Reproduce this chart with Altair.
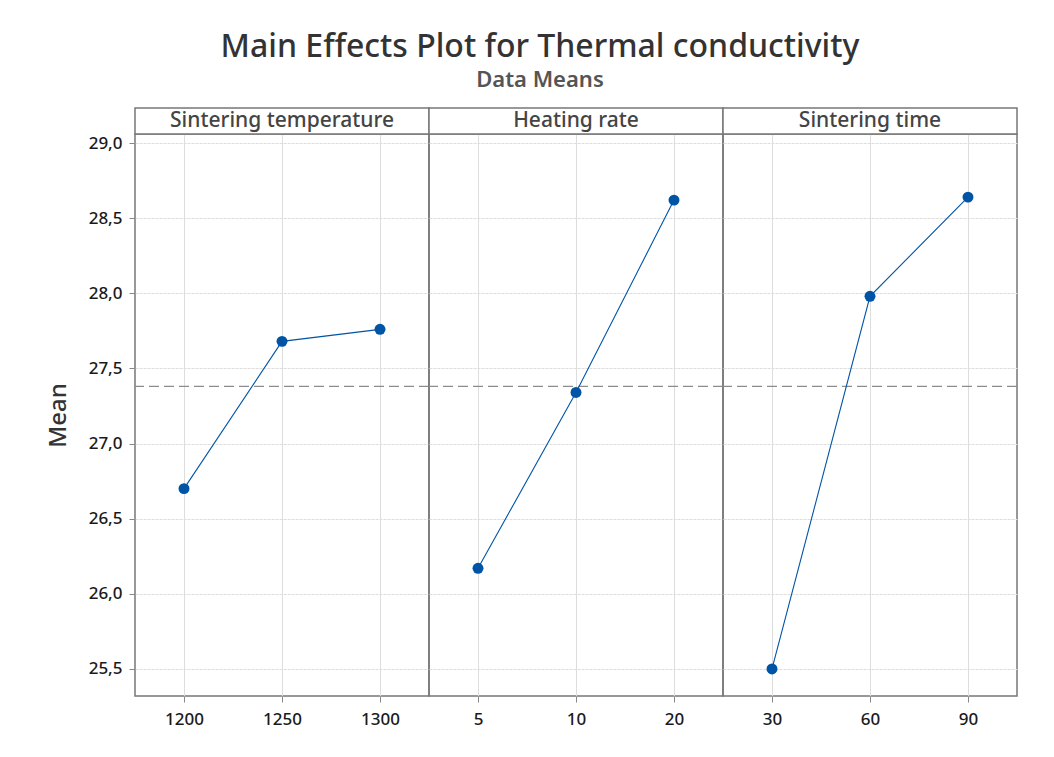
import altair as alt
import pandas as pd

factors = ["Sintering temperature", "Heating rate", "Sintering time"]
levels = [["1200", "1250", "1300"], ["5", "10", "20"], ["30", "60", "90"]]
means = [[26.70, 27.68, 27.76], [26.17, 27.34, 28.62], [25.50, 27.98, 28.64]]
grand_mean = [27.38]
y_ticks = [25.5, 26.0, 26.5, 27.0, 27.5, 28.0, 28.5, 29.0]
y_domain = [25.32, 29.06]

FONT = "Noto Sans"
W = 294
H = 562
HDR = 26
BLUE = "#0054a6"


def panel(i):
    df = pd.DataFrame({"level": levels[i], "mean": means[i]})
    first = i == 0
    if first:
        yaxis = alt.Axis(
            values=y_ticks,
            labelExpr="replace(format(datum.value, '.1f'), '.', ',')",
            title="Mean",
            titleFontSize=24,
            titleFont=FONT,
            titleFontWeight=500,
            titleColor="#333333",
            titlePadding=18,
            labelFontSize=17,
            labelFont=FONT,
            labelColor="#1a1a1a",
            labelFontWeight=500,
            labelPadding=7,
            tickSize=6,
            tickColor="#888888",
            domain=False,
            grid=True,
            gridColor="#dddddd",
            gridDash=[3, 1],
        )
    else:
        yaxis = alt.Axis(
            values=y_ticks,
            labels=False,
            ticks=False,
            domain=False,
            title=None,
            grid=True,
            gridColor="#dddddd",
            gridDash=[3, 1],
        )
    x = alt.X(
        "level:N",
        sort=levels[i],
        scale=alt.Scale(type="point", padding=0.5),
        axis=alt.Axis(
            title=None,
            labelAngle=0,
            labelFontSize=17,
            labelFont=FONT,
            labelColor="#1a1a1a",
            labelFontWeight=500,
            labelPadding=9,
            tickSize=6,
            tickColor="#888888",
            domain=False,
            grid=True,
            gridColor="#dddddd",
        ),
    )
    y = alt.Y("mean:Q", scale=alt.Scale(domain=y_domain, nice=False, zero=False), axis=yaxis)

    base = alt.Chart(df)
    line = base.mark_line(color=BLUE, strokeWidth=1.1).encode(x=x, y=y)
    pts = base.mark_point(filled=True, size=120, opacity=1, color=BLUE).encode(x=x, y=y)
    gm = alt.Chart(pd.DataFrame({"gm": grand_mean})).mark_rule(
        color="#8c8c8c", strokeDash=[10, 5], strokeWidth=1.2
    ).encode(y="gm:Q")

    hdr_df = pd.DataFrame({"factor": [factors[i]]})
    hdr_rect = alt.Chart(hdr_df).mark_rect(fill="white", stroke="#777777", strokeWidth=1.5).encode(
        x=alt.value(0), x2=alt.value(W), y=alt.value(-HDR), y2=alt.value(0)
    )
    hdr_text = alt.Chart(hdr_df).mark_text(
        font=FONT, fontSize=21, color="#444444", baseline="middle", align="center", fontWeight=500
    ).encode(x=alt.value(W / 2), y=alt.value(-HDR / 2), text="factor:N")

    return alt.layer(gm, line, pts, hdr_rect, hdr_text).properties(width=W, height=H)


chart = (
    alt.hconcat(panel(0), panel(1), panel(2), spacing=0, bounds="flush")
    .properties(
        title=alt.TitleParams(
            "Main Effects Plot for Thermal conductivity",
            subtitle="Data Means",
            anchor="middle",
            dx=8,
            fontSize=32,
            font=FONT,
            fontWeight=500,
            color="#333333",
            subtitleFontSize=22,
            subtitleFont=FONT,
            subtitleFontWeight=600,
            subtitleColor="#555555",
            subtitlePadding=6,
            offset=15,
        ),
        padding={"left": 37, "top": 22, "right": 5, "bottom": 5},
        background="white",
    )
    .configure_view(stroke="#777777", strokeWidth=1.5)
)

chart.save("out.html", embed_options={"renderer": "svg", "actions": False})
